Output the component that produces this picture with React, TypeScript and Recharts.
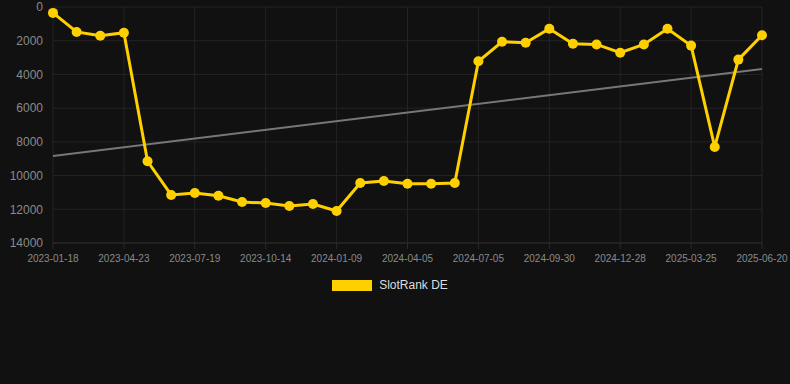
import React from 'react';
import { LineChart, Line, XAxis, YAxis, CartesianGrid, Legend, ReferenceLine } from 'recharts';

const dates = [
    '2023-01-18', '2023-02-20', '2023-03-22', '2023-04-23', '2023-05-24', '2023-06-18',
    '2023-07-19', '2023-08-17', '2023-09-15', '2023-10-14', '2023-11-12', '2023-12-11',
    '2024-01-09', '2024-02-07', '2024-03-07', '2024-04-05', '2024-05-06', '2024-06-05',
    '2024-07-05', '2024-08-03', '2024-09-01', '2024-09-30', '2024-10-29', '2024-11-28',
    '2024-12-28', '2025-01-26', '2025-02-24', '2025-03-25', '2025-04-23', '2025-05-22',
    '2025-06-20',
];

const rank = [
    350, 1480, 1710, 1530, 9150, 11150, 11030, 11200, 11570, 11630, 11800, 11690,
    12100, 10440, 10320, 10480, 10480, 10440, 3220, 2060, 2120, 1290, 2180, 2220,
    2710, 2220, 1290, 2290, 8300, 3120, 1680,
];

// trend line end values (first date, last date)
const trend = [8840, 3680];

const yTicks = [0, 2000, 4000, 6000, 8000, 10000, 12000, 14000];

const data = dates.map((d, i) => ({ date: d, rank: rank[i] }));

const font = '"Liberation Sans", Arial, sans-serif';

const renderLegend = () => (
    <div style={{ display: 'flex', justifyContent: 'center', alignItems: 'center', height: 20, fontFamily: font, paddingLeft: 10 }}>
        <span style={{ width: 40, height: 11, background: '#FFD000', display: 'inline-block', marginRight: 7 }} />
        <span style={{ color: '#dddddd', fontSize: 12 }}>SlotRank DE</span>
    </div>
);

export default function App() {
    return (
        <div style={{ position: 'fixed', left: 0, top: 0, width: 790, height: 384, background: '#111111' }}>
            <LineChart width={790} height={384} data={data} margin={{ top: 7, right: 28, left: 8, bottom: 89 }}>
                <CartesianGrid stroke="#242424" />
                <XAxis
                    dataKey="date"
                    interval={2}
                    tick={{ fill: '#8a8a8a', fontSize: 10, fontFamily: font }}
                    axisLine={{ stroke: '#2a2a2a' }}
                    tickLine={{ stroke: '#2a2a2a' }}
                    tickMargin={6}
                    height={32}
                />
                <YAxis
                    reversed
                    domain={[0, 14000]}
                    ticks={yTicks}
                    interval={0}
                    width={45}
                    tick={{ fill: '#8a8a8a', fontSize: 12, fontFamily: font }}
                    axisLine={false}
                    tickLine={false}
                    tickMargin={4}
                />
                <ReferenceLine
                    segment={[{ x: dates[0], y: trend[0] }, { x: dates[dates.length - 1], y: trend[1] }]}
                    stroke="#777777"
                    strokeWidth={2}
                />
                <Line
                    type="linear"
                    dataKey="rank"
                    name="SlotRank DE"
                    stroke="#FFD000"
                    strokeWidth={3}
                    dot={{ r: 5, fill: '#FFD000', stroke: '#FFD000', strokeWidth: 0 }}
                    activeDot={false}
                    isAnimationActive={false}
                />
                <Legend verticalAlign="bottom" content={renderLegend} />
            </LineChart>
        </div>
    );
}
